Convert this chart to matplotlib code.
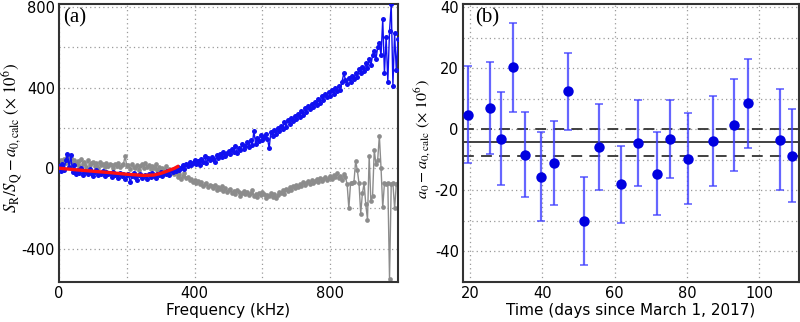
import numpy as np
import matplotlib
matplotlib.use("Agg")
import matplotlib.pyplot as plt

plt.rcParams['font.family'] = ['DejaVu Sans']
plt.rcParams['mathtext.fontset'] = 'stix'

# ---------------- Panel (a) data ----------------
freq_khz = np.arange(0, 1001, 5)  # frequency grid (kHz)

blue_vals = [
    10, -15, 20, -10, 40, 70, 5, 65, -20, 15, -30,
    -10, -25, 0, -35, -15, -20, -30, -5, -25, -40,
    -20, -10, -35, -25, -30, -15, -40, -20, -30, -25,
    -45, -20, -35, -30, -50, -25, -40, -30, -55, -35,
    -30, -70, -40, -25, -45, -60, -35, -30, -50, -40,
    -35, -55, -30, -45, -25, -40, -50, -30, -35, -20,
    -40, -25, -30, -15, -35, -10, -20, -5, -15, 5,
    -10, 0, 15, -5, 20, 10, 30, 15, 25, 40,
    20, 35, 15, 45, 30, 60, 25, 50, 40, 55,
    45, 30, 65, 50, 70, 55, 80, 60, 75, 85,
    70, 95, 80, 110, 75, 100, 90, 120, 95, 110,
    130, 105, 140, 115, 185, 120, 150, 135, 165, 140,
    155, 170, 145, 100, 180, 160, 190, 170, 200, 185,
    210, 195, 230, 205, 240, 220, 250, 235, 260, 245,
    270, 255, 285, 265, 300, 280, 310, 295, 320, 305,
    330, 315, 345, 325, 360, 340, 370, 355, 380, 360,
    390, 370, 400, 385, 410, 390, 430, 470, 440, 420,
    450, 430, 460, 445, 470, 455, 490, 470, 500, 480,
    520, 495, 540, 510, 560, 580, 540, 600, 620, 560,
    740, 470, 650, 430, 680, 815, 410, 670, 485, 640,
]

gray_vals = [
    20, 40, 10, 45, 25, 55, 30, 50, 15, 40, 20,
    35, 10, 45, 20, 30, 5, 40, 15, 25, 30,
    10, 25, 0, 30, 15, 20, 5, 25, 10, 20,
    15, 0, 20, 10, 25, 5, 15, 20, 60, 10,
    15, -5, 20, 5, 0, 15, -10, 10, 20, 0,
    25, 5, 15, -5, 10, 0, 20, -10, 5, -5,
    0, -15, 10, -20, -5, -25, -10, -30, -20, -45,
    -30, -55, -40, -25, -50, -45, -60, -55, -70, -60,
    -75, -65, -80, -70, -90, -80, -75, -95, -85, -90,
    -100, -85, -110, -95, -105, -90, -115, -100, -120, -110,
    -105, -125, -115, -130, -110, -120, -140, -125, -115, -130,
    -120, -135, -125, -110, -140, -130, -145, -125, -135, -120,
    -130, -150, -135, -140, -125, -145, -130, -150, -135, -120,
    -125, -110, -130, -105, -115, -95, -110, -90, -100, -85,
    -95, -80, -90, -70, -85, -75, -65, -80, -60, -75,
    -65, -55, -70, -50, -65, -55, -45, -60, -50, -40,
    -55, -35, -45, -25, -50, -40, -60, -30, -45, -80,
    -200, -75, -75, -70, 35, -10, -75, -225, -125, -75,
    -180, -255, 60, -165, -140, 90, 20, 40, 160, 0,
    -195, -75, -80, -75, -550, -80, -75, -200, -80, -75,
]

fit_freq = [0, 50, 100, 150, 200, 250, 280, 300, 320, 340, 350]
fit_vals = [0, -8, -15, -22, -30, -36, -34, -26, -14, -1, 8]

# ---------------- Panel (b) data ----------------
days = [19.5, 25.5, 28.5, 31.8, 35.2, 39.6, 43.3, 47.0, 51.5, 55.6,
        61.7, 66.4, 71.8, 75.4, 80.2, 87.1, 93.1, 96.8, 105.8, 109.2]
a0_diff = [4.8, 7.0, -3.1, 20.3, -8.3, -15.5, -11.0, 12.4, -30.0, -5.8,
           -18.0, -4.5, -14.5, -3.2, -9.7, -3.8, 1.4, 8.5, -3.4, -8.6]
a0_err = [15.8, 15.0, 15.2, 14.5, 13.9, 14.6, 13.8, 12.6, 14.3, 14.0,
          12.6, 14.0, 13.5, 12.8, 14.9, 14.7, 15.0, 14.6, 16.6, 15.2]
mean_val = -4.3
mean_band = [0.0, -8.6]

# ---------------- Figure ----------------
fig = plt.figure(figsize=(8.0, 3.22), dpi=100)
axA = fig.add_axes([59/800, 1-282/322, (398-59)/800, (282-4)/322])
axB = fig.add_axes([463/800, 1-282/322, (799-463)/800, (282-4)/322])

spine_col = '#333333'
grid_kw = dict(color='#9a9a9a', linestyle=(0, (1, 2.5)), linewidth=0.9)

# Panel (a)
axA.plot(freq_khz, gray_vals, '-o', color='#8c8c8c', ms=3.4, lw=1.0,
         markeredgewidth=0, zorder=2)
axA.plot(freq_khz, blue_vals, '-o', color='#1010f0', ms=3.6, lw=1.0,
         markeredgewidth=0, zorder=3)
axA.plot(fit_freq, fit_vals, '-', color='#ff1010', lw=2.4, zorder=4)
axA.set_xlim(0, 1000)
axA.set_ylim(-565, 815)
axA.set_xticks([0, 200, 400, 600, 800])
axA.set_xticklabels(['0', '', '400', '', '800'])
axA.set_yticks([-400, -200, 0, 200, 400, 600, 800])
axA.set_yticklabels(['-400', '', '0', '', '400', '', '800'])
axA.grid(True, **grid_kw)
axA.set_axisbelow(True)
axA.set_xlabel('Frequency (kHz)', fontsize=11, labelpad=1)
axA.set_ylabel(r'$S_\mathrm{R}/S_\mathrm{Q} - a_{0,\mathrm{calc}}\ (\times\ 10^6)$',
               fontsize=12.2)
axA.yaxis.set_label_coords(-0.1, 0.52)
axA.text(0.012, 0.985, '(a)', transform=axA.transAxes, ha='left', va='top',
         fontsize=15, family='Liberation Serif')

# Panel (b)
axB.errorbar(days, a0_diff, yerr=a0_err, fmt='none', ecolor='#4040ff',
             elinewidth=1.6, capsize=3, capthick=1.2, alpha=0.8, zorder=3)
axB.plot(days, a0_diff, 'o', color='#0000e0', ms=7.5, markeredgewidth=0, zorder=4)
axB.axhline(mean_val, color=spine_col, lw=1.3, zorder=2)
for v in mean_band:
    axB.axhline(v, color=spine_col, lw=1.3, linestyle=(0, (6, 4)), zorder=2)
axB.set_xlim(18, 111)
axB.set_ylim(-50, 41)
axB.set_xticks([20, 40, 60, 80, 100])
axB.set_yticks([-40, -30, -20, -10, 0, 10, 20, 30, 40])
axB.set_yticklabels(['-40', '', '-20', '', '0', '', '20', '', '40'])
axB.grid(True, **grid_kw)
axB.set_axisbelow(True)
axB.set_xlabel('Time (days since March 1, 2017)', fontsize=11, labelpad=1)
axB.set_ylabel(r'$a_0 - a_{0,\mathrm{calc}}\ (\times\ 10^6)$', fontsize=11.6)
axB.yaxis.set_label_coords(-0.088, 0.514)
axB.text(0.035, 0.985, '(b)', transform=axB.transAxes, ha='left', va='top',
         fontsize=15, family='Liberation Serif')

for ax in (axA, axB):
    for s in ax.spines.values():
        s.set_color(spine_col)
        s.set_linewidth(1.5)
    ax.tick_params(length=0, labelsize=10.5, pad=3, colors='black')

fig.savefig('out.png', dpi=100)
